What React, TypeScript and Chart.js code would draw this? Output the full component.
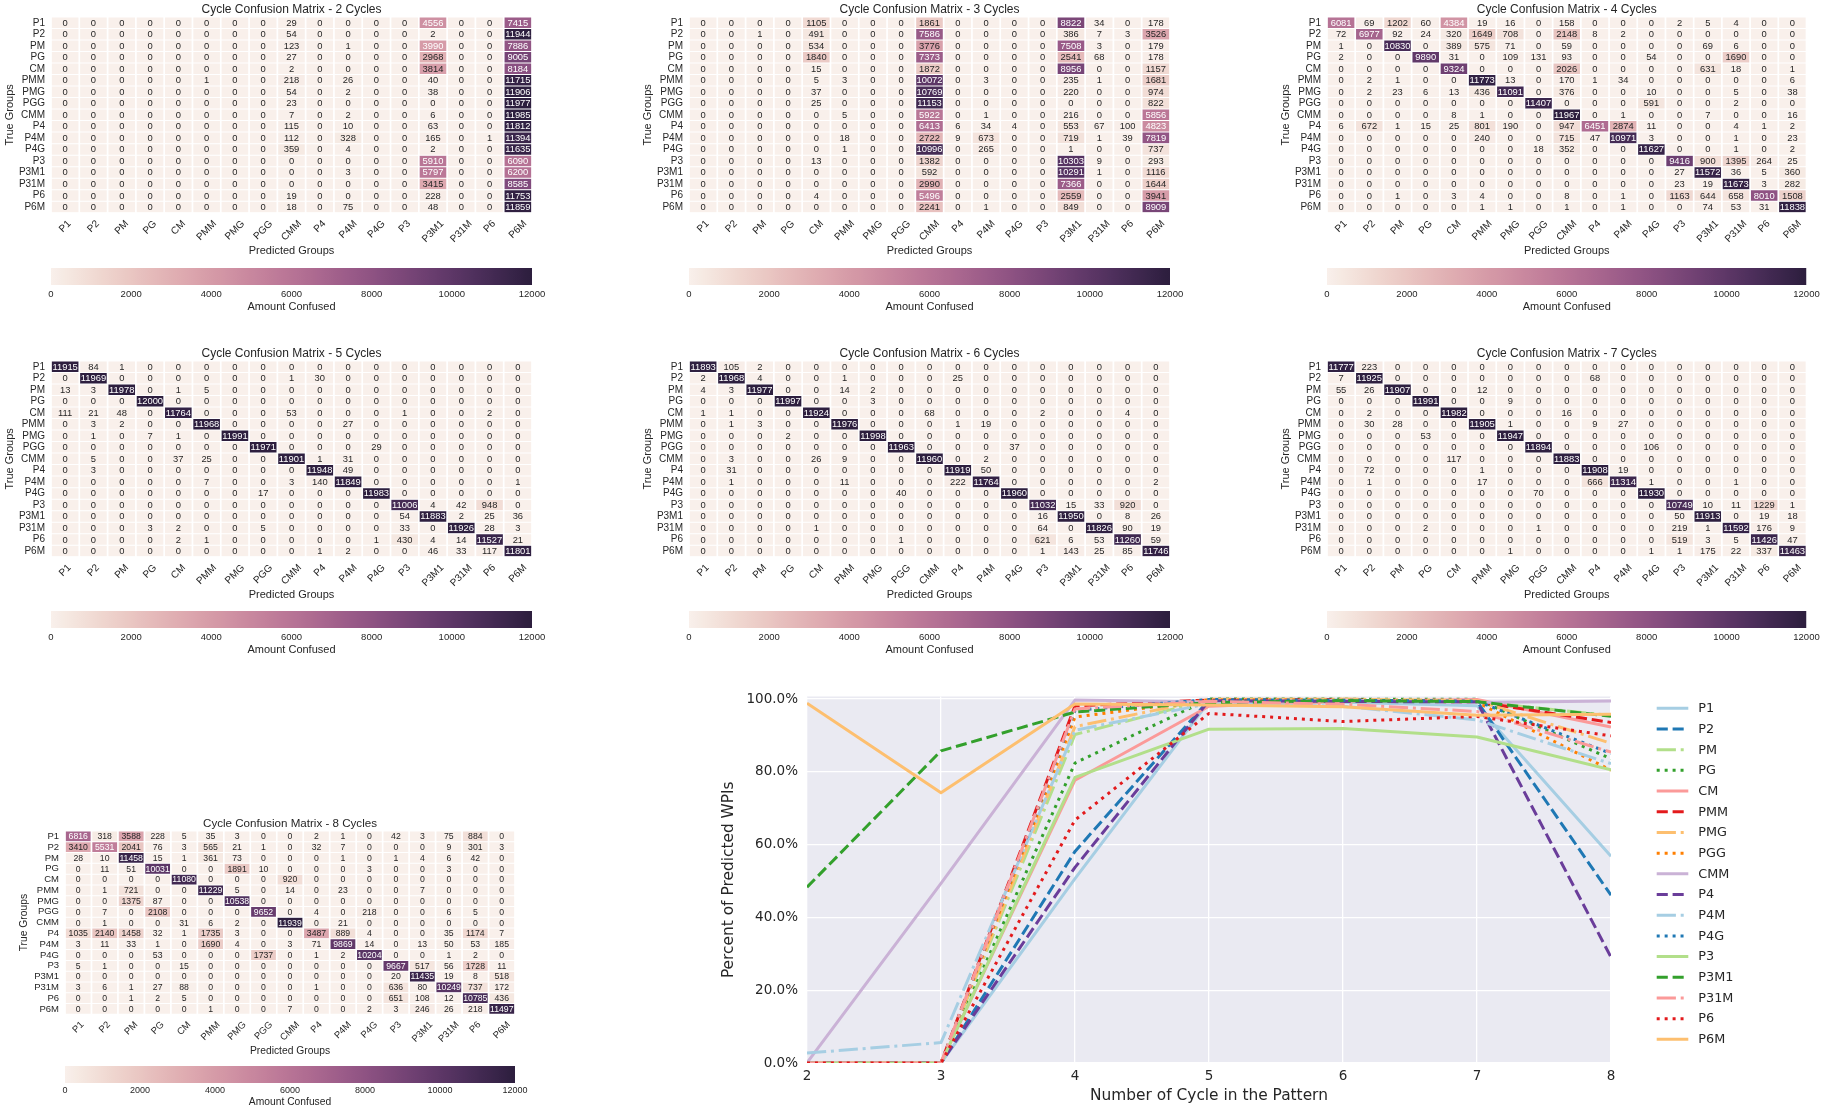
import React, { useEffect, useRef } from "react";
import { Chart, registerables } from "chart.js";
Chart.register(...registerables);

const FONT_HM = "'Liberation Sans', Arial, Helvetica, sans-serif";
const FONT_LN = "'DejaVu Sans', 'Liberation Sans', sans-serif";
const TEXT = "#262626";
Chart.defaults.font.family = FONT_HM;
Chart.defaults.color = TEXT;

// ---------------- DATA ----------------
const GROUPS = ["P1","P2","PM","PG","CM","PMM","PMG","PGG","CMM","P4","P4M","P4G","P3","P3M1","P31M","P6","P6M"];

const CM_2 = [
  [0,0,0,0,0,0,0,0,29,0,0,0,0,4556,0,0,7415],
  [0,0,0,0,0,0,0,0,54,0,0,0,0,2,0,0,11944],
  [0,0,0,0,0,0,0,0,123,0,1,0,0,3990,0,0,7886],
  [0,0,0,0,0,0,0,0,27,0,0,0,0,2968,0,0,9005],
  [0,0,0,0,0,0,0,0,2,0,0,0,0,3814,0,0,8184],
  [0,0,0,0,0,1,0,0,218,0,26,0,0,40,0,0,11715],
  [0,0,0,0,0,0,0,0,54,0,2,0,0,38,0,0,11906],
  [0,0,0,0,0,0,0,0,23,0,0,0,0,0,0,0,11977],
  [0,0,0,0,0,0,0,0,7,0,2,0,0,6,0,0,11985],
  [0,0,0,0,0,0,0,0,115,0,10,0,0,63,0,0,11812],
  [0,0,0,0,0,0,0,0,112,0,328,0,0,165,0,1,11394],
  [0,0,0,0,0,0,0,0,359,0,4,0,0,2,0,0,11635],
  [0,0,0,0,0,0,0,0,0,0,0,0,0,5910,0,0,6090],
  [0,0,0,0,0,0,0,0,0,0,3,0,0,5797,0,0,6200],
  [0,0,0,0,0,0,0,0,0,0,0,0,0,3415,0,0,8585],
  [0,0,0,0,0,0,0,0,19,0,0,0,0,228,0,0,11753],
  [0,0,0,0,0,0,0,0,18,0,75,0,0,48,0,0,11859],
];

const CM_3 = [
  [0,0,0,0,1105,0,0,0,1861,0,0,0,0,8822,34,0,178],
  [0,0,1,0,491,0,0,0,7586,0,0,0,0,386,7,3,3526],
  [0,0,0,0,534,0,0,0,3776,0,0,0,0,7508,3,0,179],
  [0,0,0,0,1840,0,0,0,7373,0,0,0,0,2541,68,0,178],
  [0,0,0,0,15,0,0,0,1872,0,0,0,0,8956,0,0,1157],
  [0,0,0,0,5,3,0,0,10072,0,3,0,0,235,1,0,1681],
  [0,0,0,0,37,0,0,0,10769,0,0,0,0,220,0,0,974],
  [0,0,0,0,25,0,0,0,11153,0,0,0,0,0,0,0,822],
  [0,0,0,0,0,5,0,0,5922,0,1,0,0,216,0,0,5856],
  [0,0,0,0,0,0,0,0,6413,6,34,4,0,553,67,100,4823],
  [0,0,0,0,0,18,0,0,2722,9,673,0,0,719,1,39,7819],
  [0,0,0,0,0,1,0,0,10996,0,265,0,0,1,0,0,737],
  [0,0,0,0,13,0,0,0,1382,0,0,0,0,10303,9,0,293],
  [0,0,0,0,0,0,0,0,592,0,0,0,0,10291,1,0,1116],
  [0,0,0,0,0,0,0,0,2990,0,0,0,0,7366,0,0,1644],
  [0,0,0,0,4,0,0,0,5496,0,0,0,0,2559,0,0,3941],
  [0,0,0,0,0,0,0,0,2241,0,1,0,0,849,0,0,8909],
];

const CM_4 = [
  [6081,69,1202,60,4384,19,16,0,158,0,0,0,2,5,4,0,0],
  [72,6977,92,24,320,1649,708,0,2148,8,2,0,0,0,0,0,0],
  [1,0,10830,0,389,575,71,0,59,0,0,0,0,69,6,0,0],
  [2,0,0,9890,31,0,109,131,93,0,0,54,0,0,1690,0,0],
  [0,0,0,0,9324,0,0,0,2026,0,0,0,0,631,18,0,1],
  [0,2,1,0,0,11773,13,0,170,1,34,0,0,0,0,0,6],
  [0,2,23,6,13,436,11091,0,376,0,0,10,0,0,5,0,38],
  [0,0,0,0,0,0,0,11407,0,0,0,591,0,0,2,0,0],
  [0,0,0,0,8,1,0,0,11967,0,1,0,0,7,0,0,16],
  [6,672,1,15,25,801,190,0,947,6451,2874,11,0,0,4,1,2],
  [0,0,0,0,0,240,0,0,715,47,10971,3,0,0,1,0,23],
  [0,0,0,0,0,0,0,18,352,0,0,11627,0,0,1,0,2],
  [0,0,0,0,0,0,0,0,0,0,0,0,9416,900,1395,264,25],
  [0,0,0,0,0,0,0,0,0,0,0,0,27,11572,36,5,360],
  [0,0,0,0,0,0,0,0,0,0,0,0,23,19,11673,3,282],
  [0,0,1,0,3,4,0,0,8,0,1,0,1163,644,658,8010,1508],
  [0,0,0,0,0,1,1,0,1,0,1,0,0,74,53,31,11838],
];

const CM_5 = [
  [11915,84,1,0,0,0,0,0,0,0,0,0,0,0,0,0,0],
  [0,11969,0,0,0,0,0,0,1,30,0,0,0,0,0,0,0],
  [13,3,11978,0,1,5,0,0,0,0,0,0,0,0,0,0,0],
  [0,0,0,12000,0,0,0,0,0,0,0,0,0,0,0,0,0],
  [111,21,48,0,11764,0,0,0,53,0,0,0,1,0,0,2,0],
  [0,3,2,0,0,11968,0,0,0,0,27,0,0,0,0,0,0],
  [0,1,0,7,1,0,11991,0,0,0,0,0,0,0,0,0,0],
  [0,0,0,0,0,0,0,11971,0,0,0,29,0,0,0,0,0],
  [0,5,0,0,37,25,0,0,11901,1,31,0,0,0,0,0,0],
  [0,3,0,0,0,0,0,0,0,11948,49,0,0,0,0,0,0],
  [0,0,0,0,0,7,0,0,3,140,11849,0,0,0,0,0,1],
  [0,0,0,0,0,0,0,17,0,0,0,11983,0,0,0,0,0],
  [0,0,0,0,0,0,0,0,0,0,0,0,11006,4,42,948,0],
  [0,0,0,0,0,0,0,0,0,0,0,0,54,11883,2,25,36],
  [0,0,0,3,2,0,0,5,0,0,0,0,33,0,11926,28,3],
  [0,0,0,0,2,1,0,0,0,0,0,1,430,4,14,11527,21],
  [0,0,0,0,0,0,0,0,0,1,2,0,0,46,33,117,11801],
];

const CM_6 = [
  [11893,105,2,0,0,0,0,0,0,0,0,0,0,0,0,0,0],
  [2,11968,4,0,0,1,0,0,0,25,0,0,0,0,0,0,0],
  [4,3,11977,0,0,14,2,0,0,0,0,0,0,0,0,0,0],
  [0,0,0,11997,0,0,3,0,0,0,0,0,0,0,0,0,0],
  [1,1,0,0,11924,0,0,0,68,0,0,0,2,0,0,4,0],
  [0,1,3,0,0,11976,0,0,0,1,19,0,0,0,0,0,0],
  [0,0,0,2,0,0,11998,0,0,0,0,0,0,0,0,0,0],
  [0,0,0,0,0,0,0,11963,0,0,0,37,0,0,0,0,0],
  [0,3,0,0,26,9,0,0,11960,0,2,0,0,0,0,0,0],
  [0,31,0,0,0,0,0,0,0,11919,50,0,0,0,0,0,0],
  [0,1,0,0,0,11,0,0,0,222,11764,0,0,0,0,0,2],
  [0,0,0,0,0,0,0,40,0,0,0,11960,0,0,0,0,0],
  [0,0,0,0,0,0,0,0,0,0,0,0,11032,15,33,920,0],
  [0,0,0,0,0,0,0,0,0,0,0,0,16,11950,0,8,26],
  [0,0,0,0,1,0,0,0,0,0,0,0,64,0,11826,90,19],
  [0,0,0,0,0,0,0,1,0,0,0,0,621,6,53,11260,59],
  [0,0,0,0,0,0,0,0,0,0,0,0,1,143,25,85,11746],
];

const CM_7 = [
  [11777,223,0,0,0,0,0,0,0,0,0,0,0,0,0,0,0],
  [7,11925,0,0,0,0,0,0,0,68,0,0,0,0,0,0,0],
  [55,26,11907,0,0,12,0,0,0,0,0,0,0,0,0,0,0],
  [0,0,0,11991,0,0,9,0,0,0,0,0,0,0,0,0,0],
  [0,2,0,0,11982,0,0,0,16,0,0,0,0,0,0,0,0],
  [0,30,28,0,0,11905,1,0,0,9,27,0,0,0,0,0,0],
  [0,0,0,53,0,0,11947,0,0,0,0,0,0,0,0,0,0],
  [0,0,0,0,0,0,0,11894,0,0,0,106,0,0,0,0,0],
  [0,0,0,0,117,0,0,0,11883,0,0,0,0,0,0,0,0],
  [0,72,0,0,0,1,0,0,0,11908,19,0,0,0,0,0,0],
  [0,1,0,0,0,17,0,0,0,666,11314,1,0,0,1,0,0],
  [0,0,0,0,0,0,0,70,0,0,0,11930,0,0,0,0,0],
  [0,0,0,0,0,0,0,0,0,0,0,0,10749,10,11,1229,1],
  [0,0,0,0,0,0,0,0,0,0,0,0,50,11913,0,19,18],
  [0,0,0,2,0,0,0,1,0,0,0,0,219,1,11592,176,9],
  [0,0,0,0,0,0,0,0,0,0,0,0,519,3,5,11426,47],
  [0,0,0,0,0,0,1,0,0,0,0,1,1,175,22,337,11463],
];

const CM_8 = [
  [6816,318,3588,228,5,35,3,0,0,2,1,0,42,3,75,884,0],
  [3410,5531,2041,76,3,565,21,1,0,32,7,0,0,0,9,301,3],
  [28,10,11458,15,1,361,73,0,0,0,1,0,1,4,6,42,0],
  [0,11,51,10031,0,0,1891,10,0,0,0,3,0,0,3,0,0],
  [0,0,0,0,11080,0,0,0,920,0,0,0,0,0,0,0,0],
  [0,1,721,0,0,11229,5,0,14,0,23,0,0,7,0,0,0],
  [0,0,1375,87,0,0,10538,0,0,0,0,0,0,0,0,0,0],
  [0,7,0,2108,0,0,0,9652,0,4,0,218,0,0,6,5,0],
  [0,1,0,0,31,6,2,0,11939,0,21,0,0,0,0,0,0],
  [1035,2140,1458,32,1,1735,3,0,0,3487,889,4,0,0,35,1174,7],
  [3,11,33,1,0,1690,4,0,3,71,9869,14,0,13,50,53,185],
  [0,0,0,53,0,0,0,1737,0,1,2,10204,0,0,1,2,0],
  [5,1,0,0,15,0,0,0,0,0,0,0,9667,517,56,1728,11],
  [0,0,0,0,0,0,0,0,0,0,0,0,20,11435,19,8,518],
  [3,6,1,27,88,0,0,0,0,1,0,0,636,80,10249,737,172],
  [0,0,1,2,5,0,0,0,0,0,0,0,651,108,12,10785,436],
  [0,0,0,0,0,1,0,0,7,0,0,2,3,246,26,218,11497],
];

const VMIN = 0;
const VMAX = 12000;
const COLORBAR_TICKS = [0, 2000, 4000, 6000, 8000, 10000, 12000];

const CYCLES = [2, 3, 4, 5, 6, 7, 8];
const PCT_TICKS = [0, 20, 40, 60, 80, 100];
const PCT_P1 = [0, 0, 50.68, 99.29, 99.11, 98.14, 56.8];
const PCT_P2 = [0, 0, 58.14, 99.74, 99.73, 99.38, 46.09];
const PCT_PM = [0, 0, 90.25, 99.82, 99.81, 99.23, 95.48];
const PCT_PG = [0, 0, 82.42, 100, 99.98, 99.93, 83.59];
const PCT_CM = [0, 0.13, 77.7, 98.03, 99.37, 99.85, 92.33];
const PCT_PMM = [0.01, 0.03, 98.11, 99.73, 99.8, 99.21, 93.58];
const PCT_PMG = [0, 0, 92.43, 99.93, 99.98, 99.56, 87.82];
const PCT_PGG = [0, 0, 95.06, 99.76, 99.69, 99.12, 80.43];
const PCT_CMM = [0.06, 49.35, 99.73, 99.18, 99.67, 99.03, 99.49];
const PCT_P4 = [0, 0.05, 53.76, 99.57, 99.33, 99.23, 29.06];
const PCT_P4M = [2.73, 5.61, 91.43, 98.74, 98.03, 94.28, 82.24];
const PCT_P4G = [0, 0, 96.89, 99.86, 99.67, 99.42, 85.03];
const PCT_P3 = [0, 0, 78.47, 91.72, 91.93, 89.58, 80.56];
const PCT_P3M1 = [48.31, 85.76, 96.43, 99.03, 99.58, 99.28, 95.29];
const PCT_P31M = [0, 0, 97.28, 99.38, 98.55, 96.6, 85.41];
const PCT_P6 = [0, 0, 66.75, 96.06, 93.83, 95.22, 89.88];
const PCT_P6M = [98.83, 74.24, 98.65, 98.34, 97.88, 95.53, 95.81];

const SERIES = [
  { label: "P1", data: PCT_P1 }, { label: "P2", data: PCT_P2 }, { label: "PM", data: PCT_PM },
  { label: "PG", data: PCT_PG }, { label: "CM", data: PCT_CM }, { label: "PMM", data: PCT_PMM },
  { label: "PMG", data: PCT_PMG }, { label: "PGG", data: PCT_PGG }, { label: "CMM", data: PCT_CMM },
  { label: "P4", data: PCT_P4 }, { label: "P4M", data: PCT_P4M }, { label: "P4G", data: PCT_P4G },
  { label: "P3", data: PCT_P3 }, { label: "P3M1", data: PCT_P3M1 }, { label: "P31M", data: PCT_P31M },
  { label: "P6", data: PCT_P6 }, { label: "P6M", data: PCT_P6M },
];

const PAIRED = ["#a6cee3","#1f78b4","#b2df8a","#33a02c","#fb9a99","#e31a1c","#fdbf6f","#ff7f00","#cab2d6","#6a3d9a"];
const LW = 3;
const DASHES = [[], [11.1, 4.8], [19.2, 4.8, 3, 4.8], [3, 4.95]];

// ---------------- COLORMAP (seaborn cubehelix) ----------------
const CH_LIGHT = 0.95, CH_DARK = 0.15;
function clamp01(v: number) { return Math.max(0, Math.min(1, v)); }
function cubehelix(x: number): number[] {
  const start = 0, rot = 0.4, gamma = 1, hue = 0.8;
  const xg = Math.pow(x, gamma);
  const a = (hue * xg * (1 - xg)) / 2;
  const phi = 2 * Math.PI * (start / 3 + rot * x);
  const c = Math.cos(phi), s = Math.sin(phi);
  return [
    clamp01(xg + a * (-0.14861 * c + 1.78277 * s)),
    clamp01(xg + a * (-0.29227 * c - 0.90649 * s)),
    clamp01(xg + a * (1.97294 * c)),
  ];
}
function cmap(v: number): number[] {
  const t = clamp01((v - VMIN) / (VMAX - VMIN));
  const idx = Math.min(255, Math.floor(t * 256));
  return cubehelix(CH_LIGHT + ((CH_DARK - CH_LIGHT) * idx) / 255);
}
function rgbStr(c: number[]) {
  return `rgb(${Math.round(c[0] * 255)},${Math.round(c[1] * 255)},${Math.round(c[2] * 255)})`;
}
function luminance(c: number[]) {
  const f = (u: number) => (u <= 0.03928 ? u / 12.92 : Math.pow((u + 0.055) / 1.055, 2.4));
  return 0.2126 * f(c[0]) + 0.7152 * f(c[1]) + 0.0722 * f(c[2]);
}

// ---------------- LAYOUT ----------------
const STYLE_A = {
  gh: 195.7,
  f: { title: 12, tick: 10, cell: 9.4, axis: 11, cbTick: 9.5, cbTitle: 11 },
  titleGap: 7.7, tickGap: 7, xTitleGap: 38.5,
  cbOffset: 250.7, cbH: 17, cbLabelPad: 3.8, cbAxisH: 30, cbTitlePad: 1.4,
};
const STYLE_C = {
  gh: 183.3,
  f: { title: 11.6, tick: 9.5, cell: 8.7, axis: 10.3, cbTick: 9, cbTitle: 10.3 },
  titleGap: 6.8, tickGap: 6.5, xTitleGap: 36.7,
  cbOffset: 235.3, cbH: 17, cbLabelPad: 2, cbAxisH: 27, cbTitlePad: 1.5,
};
const PANELS = [
  { m: CM_2, cyc: 2, gx: 51, gy: 17.3, gw: 481, s: STYLE_A },
  { m: CM_3, cyc: 3, gx: 689, gy: 17.3, gw: 481, s: STYLE_A },
  { m: CM_4, cyc: 4, gx: 1327, gy: 17.3, gw: 479.5, s: STYLE_A },
  { m: CM_5, cyc: 5, gx: 51, gy: 360.7, gw: 481, s: STYLE_A },
  { m: CM_6, cyc: 6, gx: 689, gy: 360.7, gw: 481, s: STYLE_A },
  { m: CM_7, cyc: 7, gx: 1327, gy: 360.7, gw: 479.5, s: STYLE_A },
  { m: CM_8, cyc: 8, gx: 65, gy: 830.7, gw: 450, s: STYLE_C },
];

const AX = 51, PT = 17, PR = 16, PB = 48;

function HeatmapPanel({ p }: { p: any }) {
  const heatRef = useRef<HTMLCanvasElement>(null);
  const cbRef = useRef<HTMLCanvasElement>(null);
  const s = p.s;
  const W = Math.ceil(AX + p.gw + PR);
  const H = Math.ceil(PT + s.gh + PB);
  const cbW = Math.ceil(p.gw + 60);
  const cbHt = Math.ceil(3 + s.cbH + s.cbAxisH);

  useEffect(() => {
    const matrix: number[][] = p.m;
    const f = s.f;
    const datasets = GROUPS.map((col, j) => ({
      label: col,
      data: GROUPS.map(() => 1),
      backgroundColor: matrix.map((row) => rgbStr(cmap(row[j]))),
      borderColor: "#ffffff",
      borderWidth: { top: 0.5, bottom: 0.5, left: 0.85, right: 0.85 },
      borderSkipped: false,
      inflateAmount: 0,
      barPercentage: 1,
      categoryPercentage: 1,
    }));

    const decor = {
      id: "hmDecor",
      afterDatasetsDraw(chart: any) {
        const ctx = chart.ctx;
        ctx.save();
        ctx.font = `${f.cell}px ${FONT_HM}`;
        ctx.textAlign = "center";
        ctx.textBaseline = "middle";
        chart.data.datasets.forEach((ds: any, j: number) => {
          const meta = chart.getDatasetMeta(j);
          meta.data.forEach((el: any, i: number) => {
            const pr = el.getProps(["x", "y", "base"], true);
            const v = matrix[i][j];
            ctx.fillStyle = luminance(cmap(v)) > 0.408 ? TEXT : "#ffffff";
            ctx.fillText(String(v), (pr.x + pr.base) / 2, pr.y + 0.5);
          });
        });
        ctx.restore();
      },
      afterDraw(chart: any) {
        const ctx = chart.ctx;
        const area = chart.chartArea;
        const xs = chart.scales.x;
        const cx = (area.left + area.right) / 2;
        ctx.save();
        ctx.fillStyle = TEXT;
        ctx.textAlign = "center";
        ctx.textBaseline = "middle";
        ctx.font = `${f.title}px ${FONT_HM}`;
        ctx.fillText(`Cycle Confusion Matrix - ${p.cyc} Cycles`, cx, area.top - s.titleGap);
        ctx.font = `${f.tick}px ${FONT_HM}`;
        GROUPS.forEach((g, j) => {
          const x = xs.getPixelForValue(j + 0.5);
          const w = ctx.measureText(g).width;
          const bb = (w + f.tick * 0.72) * Math.SQRT1_2;
          const y = area.bottom + s.tickGap + bb / 2;
          ctx.save();
          ctx.translate(x, y);
          ctx.rotate(-Math.PI / 4);
          ctx.fillText(g, 0, 0);
          ctx.restore();
        });
        ctx.font = `${f.axis}px ${FONT_HM}`;
        ctx.fillText("Predicted Groups", cx, area.bottom + s.xTitleGap);
        ctx.restore();
      },
    };

    const heat = new Chart(heatRef.current as HTMLCanvasElement, {
      type: "bar",
      data: { labels: GROUPS, datasets: datasets as any },
      options: {
        indexAxis: "y",
        responsive: false,
        animation: false,
        events: [],
        layout: { padding: { left: 0, top: PT, right: W - AX - p.gw, bottom: H - PT - s.gh } },
        plugins: { legend: { display: false }, tooltip: { enabled: false }, title: { display: false } },
        scales: {
          x: { type: "linear", stacked: true, min: 0, max: GROUPS.length, display: false },
          y: {
            type: "category",
            stacked: true,
            offset: true,
            grid: { display: false, drawTicks: false },
            border: { display: false },
            ticks: { autoSkip: false, padding: 6, font: { size: f.tick, family: FONT_HM }, color: TEXT },
            title: {
              display: true,
              text: "True Groups",
              color: TEXT,
              font: { size: f.axis, family: FONT_HM },
              padding: { top: AX - 41 - 0.6 * f.axis, bottom: 0 },
            },
            afterFit: (sc: any) => { sc.width = AX; },
          },
        },
      } as any,
      plugins: [decor],
    });

    const cb = new Chart(cbRef.current as HTMLCanvasElement, {
      type: "bar",
      data: {
        labels: [""],
        datasets: [{
          data: [[VMIN, VMAX]],
          backgroundColor: (c: any) => {
            const ch = c.chart;
            if (!ch.chartArea) return "rgba(0,0,0,0)";
            const xs = ch.scales.x;
            const g = ch.ctx.createLinearGradient(xs.getPixelForValue(VMIN), 0, xs.getPixelForValue(VMAX), 0);
            const n = 128;
            for (let i = 0; i <= n; i++) g.addColorStop(i / n, rgbStr(cmap(VMIN + ((VMAX - VMIN) * i) / n)));
            return g;
          },
          borderWidth: 0,
          inflateAmount: 0,
          barPercentage: 1,
          categoryPercentage: 1,
        }] as any,
      },
      options: {
        indexAxis: "y",
        responsive: false,
        animation: false,
        events: [],
        layout: { padding: { left: 30, right: cbW - 30 - p.gw, top: 3, bottom: 0 } },
        plugins: { legend: { display: false }, tooltip: { enabled: false } },
        scales: {
          y: { display: false },
          x: {
            type: "linear",
            min: VMIN,
            max: VMAX,
            grid: { display: false, drawTicks: false },
            border: { display: false },
            afterBuildTicks: (sc: any) => { sc.ticks = COLORBAR_TICKS.map((v) => ({ value: v })); },
            ticks: {
              autoSkip: false, maxRotation: 0, padding: s.cbLabelPad,
              font: { size: f.cbTick, family: FONT_HM }, color: TEXT,
              callback: (v: any) => String(v),
            },
            title: {
              display: true, text: "Amount Confused", color: TEXT,
              font: { size: f.cbTitle, family: FONT_HM },
              padding: { top: 0, bottom: s.cbTitlePad },
            },
            afterFit: (sc: any) => { sc.height = s.cbAxisH; },
          },
        },
      } as any,
    });

    return () => { heat.destroy(); cb.destroy(); };
  }, []);

  return (
    <>
      <canvas ref={heatRef} width={W} height={H}
        style={{ position: "absolute", left: p.gx - AX, top: p.gy - PT, width: W, height: H }} />
      <canvas ref={cbRef} width={cbW} height={cbHt}
        style={{ position: "absolute", left: p.gx - 30, top: p.gy + s.cbOffset - 3, width: cbW, height: cbHt }} />
    </>
  );
}

// ---------------- LINE CHART ----------------
const LC = { left: 700, top: 670, W: 1126, H: 442, areaL: 107, areaR: 911, areaT: 26.5, areaB: 393 };

function LineChart() {
  const ref = useRef<HTMLCanvasElement>(null);
  useEffect(() => {
    const datasets = SERIES.map((s, i) => ({
      label: s.label,
      data: CYCLES.map((c, k) => ({ x: c, y: s.data[k] })),
      borderColor: PAIRED[i % 10],
      backgroundColor: PAIRED[i % 10],
      borderWidth: LW,
      borderDash: DASHES[i % 4],
      borderCapStyle: "butt",
      borderJoinStyle: "round",
      pointRadius: 0,
      pointHoverRadius: 0,
      tension: 0,
      fill: false,
      order: SERIES.length - i,
    }));

    const bg = {
      id: "bg",
      beforeDraw(chart: any) {
        const { ctx, chartArea: a } = chart;
        ctx.save();
        ctx.fillStyle = "#EAEAF2";
        ctx.fillRect(a.left, a.top, a.right - a.left, a.bottom - a.top);
        ctx.restore();
      },
    };
    const legend = {
      id: "customLegend",
      afterDraw(chart: any) {
        const ctx = chart.ctx;
        ctx.save();
        chart.data.datasets.forEach((ds: any, i: number) => {
          const y = 38.3 + i * 20.69;
          ctx.strokeStyle = ds.borderColor;
          ctx.lineWidth = ds.borderWidth;
          ctx.lineCap = "butt";
          ctx.setLineDash(ds.borderDash);
          ctx.beginPath();
          ctx.moveTo(956.7, y);
          ctx.lineTo(988.3, y);
          ctx.stroke();
          ctx.setLineDash([]);
          ctx.fillStyle = TEXT;
          ctx.font = `12.8px ${FONT_LN}`;
          ctx.textAlign = "left";
          ctx.textBaseline = "middle";
          ctx.fillText(ds.label, 998.3, y + 0.5);
        });
        ctx.restore();
      },
    };

    const chart = new Chart(ref.current as HTMLCanvasElement, {
      type: "line",
      data: { datasets: datasets as any },
      options: {
        responsive: false,
        animation: false,
        events: [],
        layout: { padding: { left: 0, top: LC.areaT, right: LC.W - LC.areaR, bottom: 0 } },
        plugins: { legend: { display: false }, tooltip: { enabled: false } },
        scales: {
          x: {
            type: "linear", min: 2, max: 8,
            afterBuildTicks: (sc: any) => { sc.ticks = CYCLES.map((v) => ({ value: v })); },
            grid: { color: "#ffffff", lineWidth: 1.3, drawTicks: false },
            border: { display: false },
            ticks: { padding: 5.4, maxRotation: 0, font: { family: FONT_LN, size: 13.5 }, color: TEXT, callback: (v: any) => String(v) },
            title: { display: true, text: "Number of Cycle in the Pattern", color: TEXT, font: { family: FONT_LN, size: 15.4 }, padding: { top: 0, bottom: 6.8 } },
            afterFit: (sc: any) => { sc.height = LC.H - LC.areaB; },
          },
          y: {
            type: "linear", min: 0, max: 100.7,
            afterBuildTicks: (sc: any) => { sc.ticks = PCT_TICKS.map((v) => ({ value: v })); },
            grid: { color: "#ffffff", lineWidth: 1.3, drawTicks: false },
            border: { display: false },
            ticks: { padding: 9, font: { family: FONT_LN, size: 13.5 }, color: TEXT, callback: (v: any) => Number(v).toFixed(1) + "%" },
            title: { display: true, text: "Percent of Predicted WPIs", color: TEXT, font: { family: FONT_LN, size: 15.4 }, padding: { top: 19.8, bottom: 0 } },
            afterFit: (sc: any) => { sc.width = LC.areaL; },
          },
        },
      } as any,
      plugins: [bg, legend],
    });
    return () => chart.destroy();
  }, []);
  return (
    <canvas ref={ref} width={LC.W} height={LC.H}
      style={{ position: "absolute", left: LC.left, top: LC.top, width: LC.W, height: LC.H }} />
  );
}

export default function App() {
  useEffect(() => { document.body.style.margin = "0"; }, []);
  return (
    <div style={{ position: "absolute", left: 0, top: 0, width: 1826, height: 1112, background: "#ffffff", overflow: "hidden" }}>
      {PANELS.map((p) => <HeatmapPanel key={p.cyc} p={p} />)}
      <LineChart />
    </div>
  );
}
